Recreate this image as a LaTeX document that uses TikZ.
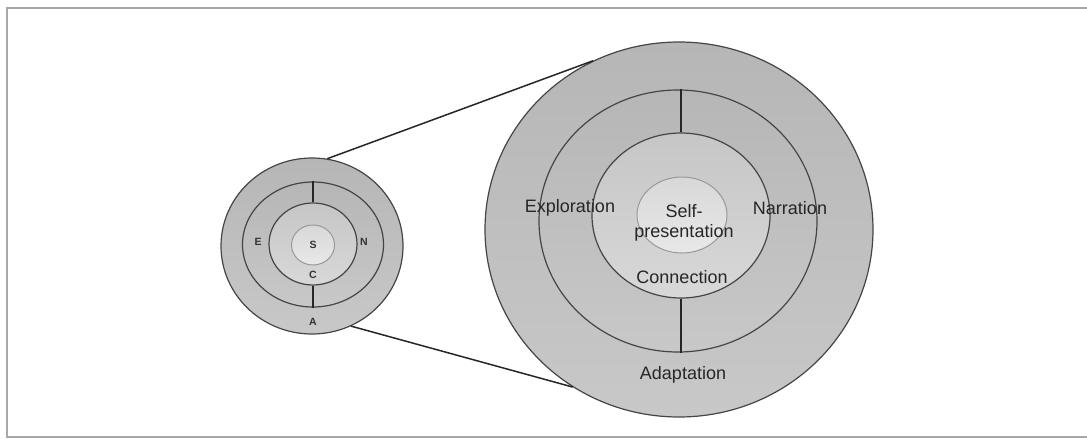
\documentclass[tikz,border=0pt]{standalone}
\usepackage{fontspec}
\setmainfont{Liberation Sans}
\usetikzlibrary{shapes.geometric}
\definecolor{ringtop}{HTML}{B6B6B6}
\definecolor{ringbot}{HTML}{C8C8C8}
\definecolor{midtop}{HTML}{C6C6C6}
\definecolor{midbot}{HTML}{D8D8D8}
\definecolor{coretop}{HTML}{D8D8D8}
\definecolor{corebot}{HTML}{E8E8E8}
\definecolor{edge}{HTML}{454545}
\definecolor{frame}{HTML}{A8A8A8}
\begin{document}
\begin{tikzpicture}[x=1pt,y=-1pt,
  ring/.style={ellipse, inner sep=0pt, draw=edge, line width=1.2pt, top color=ringtop, bottom color=ringbot},
  mid/.style={ellipse, inner sep=0pt, draw=edge, line width=1.2pt, top color=midtop, bottom color=midbot},
  core/.style={ellipse, inner sep=0pt, draw=gray!80, line width=1pt, top color=coretop, bottom color=corebot},
  big/.style={font=\fontsize{18}{20}\selectfont, text=black!85, align=center},
  small/.style={font=\fontsize{10.5}{12}\selectfont\bfseries, text=black!80},
  link/.style={draw=black!85, line width=1.5pt},
  divider/.style={draw=black!85, line width=1.3pt}]
\useasboundingbox (0,0) rectangle (1087,439);
\draw[frame, line width=2pt] (7,7.5) rectangle (1095,437);
% small circle
\node[ring, minimum width=182, minimum height=176] (s1) at (312,246) {};
\node[ring, minimum width=141, minimum height=125] (s2) at (313,244.5) {};
\node[mid, minimum width=88, minimum height=82] (s3) at (313,244) {};
\node[core, minimum width=43, minimum height=40] (s4) at (313,245) {};
\draw[divider] (s3.north) -- (s3.north |- s2.north);
\draw[divider] (s3.south) -- (s3.south |- s2.south);
\node[small] (lE) at (258,242) {E};
\node[small] (lN) at (364,242) {N};
\node[small] (lS) at (313,245) {S};
\node[small] (lC) at (313,275) {C};
\node[small] (lA) at (313,322) {A};
% big circle
\node[ring, minimum width=388, minimum height=375] (b1) at (679,229.5) {};
\node[ring, minimum width=278, minimum height=262] (b2) at (678,221) {};
\node[mid, minimum width=178, minimum height=165] (b3) at (681,215.5) {};
\node[core, minimum width=90, minimum height=76] (b4) at (682,215) {};
\draw[divider] (b3.north) -- (b3.north |- b2.north);
\draw[divider] (b3.south) -- (b3.south |- b2.south);
\node[big] (lExp) at (570,208) {Exploration};
\node[big] (lNar) at (790,208) {Narration};
\node[big] (lSelf) at (684,223) {Self-\\presentation};
\node[big] (lCon) at (682,277) {Connection};
\node[big] (lAda) at (683,375) {Adaptation};
% connectors
\draw[link] (s1.80) -- (b1.117);
\draw[link] (s1.-64) -- (b1.236);
\end{tikzpicture}
\end{document}
